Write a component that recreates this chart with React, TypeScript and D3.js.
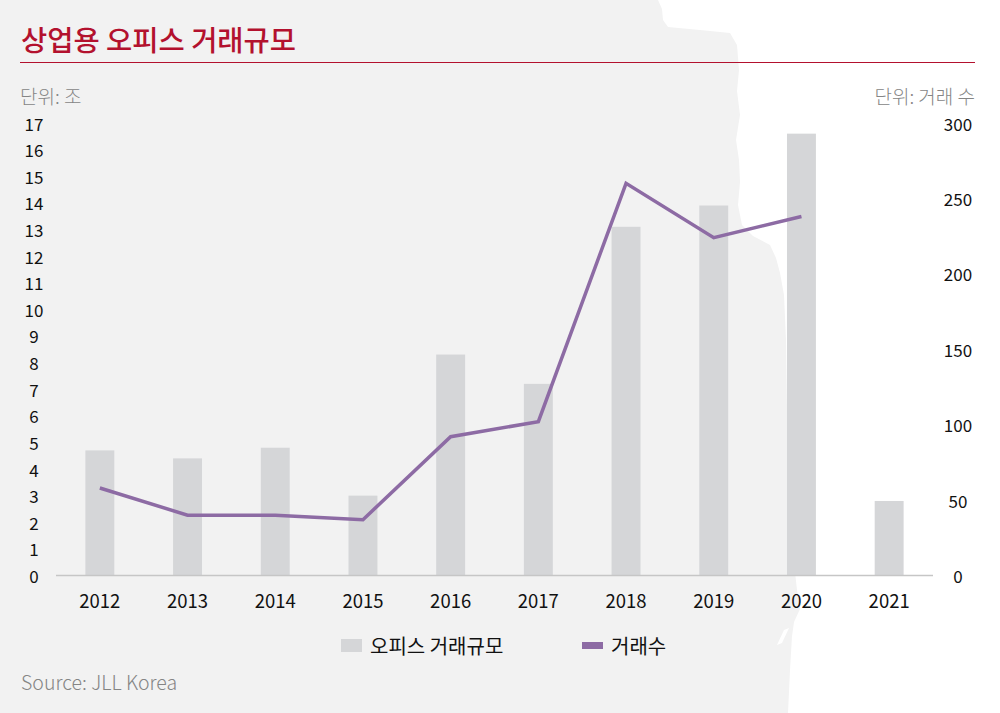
import * as d3 from "d3";

// 거래규모 (조) / 거래수 (건)
const years = ["2012", "2013", "2014", "2015", "2016", "2017", "2018", "2019", "2020", "2021"];
const volume = [4.7, 4.4, 4.8, 3.0, 8.3, 7.2, 13.1, 13.9, 16.6, 2.8];
const dealYears = ["2012", "2013", "2014", "2015", "2016", "2017", "2018", "2019", "2020"];
const deals = [58, 40, 40, 37, 92, 102, 260, 224, 238];
const leftTicks = d3.range(0, 18);
const rightTicks = [0, 50, 100, 150, 200, 250, 300];

const W = 1000;
const H = 713;
const FONT = "'Noto Sans CJK KR', 'Noto Sans', sans-serif";
const RED = "#b3112e";
const BAR = "#d5d6d8";
const LINE = "#8d6ba4";
const BG = "#f2f2f2";
const GREY_TEXT = "#858585";

// torn paper edge of the grey backdrop
const paper: [number, number][] = [
  [0, 0], [658, 0], [662, 9], [663, 20], [668, 27], [700, 30], [730, 33], [737, 45],
  [739, 70], [737, 91], [740, 115], [736, 140], [739, 160], [740, 182], [738, 205],
  [742, 225], [753, 236], [770, 245], [776, 258], [780, 273], [784, 295], [786, 340],
  [787, 409], [789, 470], [792, 545], [797, 590], [800, 609], [794, 622], [792, 636],
  [790, 670], [788, 713], [0, 713],
];

export default function App() {
  const margin = { top: 123, bottom: 137.5, left: 56, right: 67 };
  const x0 = margin.left;
  const x1 = W - margin.right;
  const yBase = H - margin.bottom;

  const x = d3.scaleBand().domain(years).range([x0, x1]).paddingInner(0.67).paddingOuter(0.335);
  const yL = d3.scaleLinear().domain([0, 17]).range([yBase, margin.top]);
  const yR = d3.scaleLinear().domain([0, 300]).range([yBase, margin.top]);

  const line = d3
    .line<number>()
    .x((d, i) => (x(dealYears[i]) as number) + x.bandwidth() / 2)
    .y((d) => yR(d));

  return (
    <svg
      width={W}
      height={H}
      style={{ position: "absolute", left: 0, top: 0, display: "block", background: "#fff" }}
      fontFamily={FONT}
    >
      <path d={"M" + paper.map((p) => p.join(",")).join("L") + "Z"} fill={BG} />
      <path d="M777,645 L784,630 L789,628 L782,643 Z" fill="#fff" />

      {/* title */}
      <text x={21} y={51} fontSize={28.5} fontWeight={500} fill={RED}>
        상업용 오피스 거래규모
      </text>
      <line x1={20} x2={975} y1={62.5} y2={62.5} stroke={RED} strokeWidth={1.2} />

      <text x={20} y={95} fontSize={19} fontWeight={300} fill={GREY_TEXT} dominantBaseline="central">
        단위: 조
      </text>
      <text
        x={975}
        y={95}
        fontSize={19}
        fontWeight={300}
        fill={GREY_TEXT}
        dominantBaseline="central"
        textAnchor="end"
      >
        단위: 거래 수
      </text>

      {/* bars */}
      {volume.map((v, i) => (
        <rect
          key={years[i]}
          x={x(years[i])}
          y={yL(v)}
          width={x.bandwidth()}
          height={yBase - yL(v)}
          fill={BAR}
        />
      ))}

      {/* baseline */}
      <line x1={x0} x2={x1} y1={yBase} y2={yBase} stroke="#c6c6c6" strokeWidth={1.5} />

      {/* left axis */}
      {leftTicks.map((t) => (
        <text key={t} x={34} y={yL(t)} fontSize={17} textAnchor="middle" dominantBaseline="central" fill="#111">
          {t}
        </text>
      ))}

      {/* right axis */}
      {rightTicks.map((t) => (
        <text key={t} x={958} y={yR(t)} fontSize={17} textAnchor="middle" dominantBaseline="central" fill="#111">
          {t}
        </text>
      ))}

      {/* x labels */}
      {years.map((yr) => (
        <text
          key={yr}
          x={(x(yr) as number) + x.bandwidth() / 2}
          y={600}
          fontSize={18.5}
          textAnchor="middle"
          dominantBaseline="central"
          fill="#111"
        >
          {yr}
        </text>
      ))}

      {/* deals line */}
      <path d={line(deals) || ""} fill="none" stroke={LINE} strokeWidth={3.5} strokeLinejoin="miter" />

      {/* legend */}
      <rect x={341} y={639} width={21} height={13} fill={BAR} />
      <text x={370} y={645} fontSize={20} dominantBaseline="central" fill="#111">
        오피스 거래규모
      </text>
      <rect x={582} y={642} width={21} height={7} fill={LINE} />
      <text x={611} y={645} fontSize={20} dominantBaseline="central" fill="#111">
        거래수
      </text>

      <text x={21} y={681} fontSize={19.5} fontWeight={300} fill={GREY_TEXT} dominantBaseline="central">
        Source: JLL Korea
      </text>
    </svg>
  );
}
